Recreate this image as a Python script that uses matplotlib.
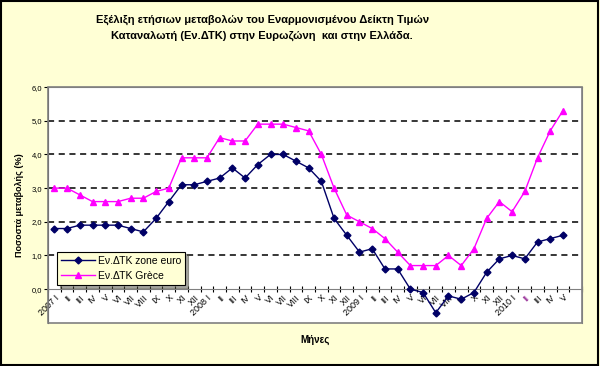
import numpy as np
import matplotlib
matplotlib.use('Agg')
import matplotlib.pyplot as plt
from matplotlib.patches import Rectangle

plt.rcParams['font.family'] = ['Liberation Sans', 'DejaVu Sans']

# Μήνες (2007 I - 2010 V)
roman = ['I', 'II', 'III', 'IV', 'V', 'VI', 'VII', 'VIII', 'IX', 'X', 'XI', 'XII']
months = []
for year, n in [(2007, 12), (2008, 12), (2009, 12), (2010, 5)]:
    for k in range(n):
        months.append(f'{year} I' if k == 0 else roman[k])

euro = [1.8, 1.8, 1.9, 1.9, 1.9, 1.9, 1.8, 1.7, 2.1, 2.6, 3.1, 3.1,
        3.2, 3.3, 3.6, 3.3, 3.7, 4.0, 4.0, 3.8, 3.6, 3.2, 2.1, 1.6,
        1.1, 1.2, 0.6, 0.6, 0.0, -0.1, -0.7, -0.2, -0.3, -0.1, 0.5, 0.9,
        1.0, 0.9, 1.4, 1.5, 1.6]
greece = [3.0, 3.0, 2.8, 2.6, 2.6, 2.6, 2.7, 2.7, 2.9, 3.0, 3.9, 3.9,
          3.9, 4.5, 4.4, 4.4, 4.9, 4.9, 4.9, 4.8, 4.7, 4.0, 3.0, 2.2,
          2.0, 1.8, 1.5, 1.1, 0.7, 0.7, 0.7, 1.0, 0.7, 1.2, 2.1, 2.6,
          2.3, 2.9, 3.9, 4.7, 5.3]
yticks = [0, 1, 2, 3, 4, 5, 6]

bg = '#FFFFD5'
fig = plt.figure(figsize=(6, 3.66), dpi=100, facecolor=bg)
ax = fig.add_axes([0.08, 0.118, 0.89, 0.644])
ax.set_facecolor('white')

x = np.arange(len(months))
ax.plot(x, euro, color='#000066', marker='D', markersize=3.5, lw=1,
        label='Εν.ΔΤΚ zone euro', zorder=4)
ax.plot(x, greece, color='#FF00FF', marker='^', markersize=5, lw=1,
        label='Εν.ΔΤΚ Grèce', zorder=3)

ax.set_xlim(-0.5, len(months) + 0.5)
ax.set_ylim(-1.0, 6.0)

# grid
for v in yticks[1:]:
    ax.axhline(v, color='black', lw=1.1, ls=(0, (4, 3)), zorder=1)

# axes styling
for s in ['top', 'right']:
    ax.spines[s].set_color('#808080')
ax.spines['left'].set_color('#404040')
ax.spines['bottom'].set_position(('data', 0))
ax.spines['bottom'].set_color('#808080')
ax.add_patch(Rectangle((0, 0), 1, 1, transform=ax.transAxes, fill=False,
                       ec='#808080', lw=1.2, zorder=5, clip_on=False))

ax.set_yticks(yticks)
ax.set_yticklabels([f'{v:.1f}'.replace('.', ',') for v in yticks], fontsize=5.5)
ax.tick_params(axis='y', length=3, width=0.8, pad=1)

ax.set_xticks(x)
ax.set_xticklabels(months, rotation=45, ha='right', va='top',
                   rotation_mode='anchor', fontsize=6.5)
ax.set_xticks(np.arange(-0.5, len(months) + 1), minor=True)
ax.tick_params(axis='x', which='major', length=0, pad=3)
ax.tick_params(axis='x', which='minor', length=4, width=0.8, direction='inout')
ax.get_xticklabels()[37].set_color('#800080')

ax.set_ylabel('Ποσοστά μεταβολής (%)', fontsize=6.5, fontweight='bold', labelpad=6)
fig.text(0.525, 0.07, 'Μήνες', fontsize=7, fontweight='bold', ha='center', va='center')

leg = ax.legend(loc='lower left', bbox_to_anchor=(0.017, 0.16), borderaxespad=0,
                fontsize=7.5, fancybox=False, shadow=True, edgecolor='black',
                facecolor=bg, framealpha=1, handlelength=3.2, borderpad=0.4,
                labelspacing=0.5, handletextpad=0.3)
leg.get_frame().set_linewidth(0.8)

fig.text(0.437, 0.945, 'Εξέλιξη ετήσιων μεταβολών του Εναρμονισμένου Δείκτη Τιμών',
         fontsize=8, fontweight='bold', ha='center', va='center')
fig.text(0.437, 0.903, 'Καταναλωτή (Εν.ΔΤΚ) στην Ευρωζώνη  και στην Ελλάδα.',
         fontsize=8, fontweight='bold', ha='center', va='center')

fig.add_artist(Rectangle((0.001, 0.002), 0.995, 0.995, transform=fig.transFigure,
                         fill=False, ec='black', lw=1.5))

fig.savefig('out.png', dpi=100, facecolor=bg)
